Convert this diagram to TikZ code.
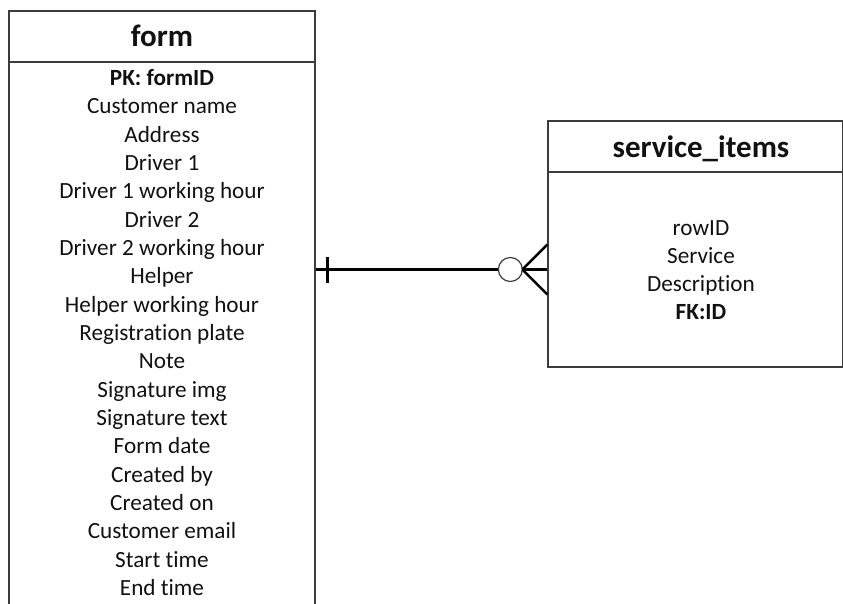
\documentclass[tikz,border=0pt]{standalone}
\usepackage{fontspec}
\setmainfont[Ligatures={NoCommon}]{Carlito}
\definecolor{boxline}{HTML}{3C3C3C}
\definecolor{ink}{HTML}{111111}
\begin{document}
\begin{tikzpicture}[x=1pt,y=-1pt,
  tablebox/.style={draw=boxline, line width=1.3pt, rectangle, inner sep=0pt},
  title/.style={font=\fontsize{31}{36}\selectfont\bfseries, text=ink, anchor=mid},
  field/.style={font=\fontsize{23.2}{27}\selectfont, text=ink, anchor=mid},
  keyfield/.style={field, font=\fontsize{23.2}{27}\selectfont\bfseries},
  rel/.style={line width=2.6pt, black}]
\useasboundingbox (0,0) rectangle (843,603);
\clip (0,0) rectangle (843,603);

% form table (runs past the lower edge)
\node[tablebox, minimum width=306pt, minimum height=51pt] (formhead) at (162,36.5) {};
\node[tablebox, minimum width=306pt, minimum height=560pt] (formbody) at (162,342) {};
\node[title] (formtitle) at (162,44) {form};

\node[keyfield] (f1) at (162,83) {PK: formID};
\foreach \t [count=\i from 1] in {Customer name, Address, Driver 1,
    Driver 1 working hour, Driver 2, Driver 2 working hour, Helper,
    Helper working hour, Registration plate, Note, Signature img,
    Signature text, Form date, Created by, Created on, Customer email,
    Start time, End time}
  \node[field] (f\i x) at (162,{83+\i*28.33}) {\t};

% service_items table
\node[tablebox, minimum width=295pt, minimum height=51pt] (svchead) at (695.5,146.5) {};
\node[tablebox, minimum width=295pt, minimum height=195pt] (svcbody) at (695.5,269.5) {};
\node[title] (svctitle) at (701,155) {service\_items};

\node[field] (s1) at (701,233) {rowID};
\node[field] (s2) at (701,261) {Service};
\node[field] (s3) at (701,289) {Description};
\node[keyfield] (s4) at (701,317) {FK:ID};

% one-to-many (zero or more) relationship
\coordinate (relA) at (formbody.east |- svcbody.west);
\coordinate (ring) at ([xshift=-37pt]svcbody.west);
\coordinate (fork) at ([xshift=-25pt]svcbody.west);
\draw[rel] (relA) -- ([xshift=-12pt]ring);
\draw[rel] ([xshift=12pt,yshift=-13pt]relA) -- ([xshift=12pt,yshift=13pt]relA);
\draw[boxline, line width=1.2pt, fill=white] (ring) circle (12pt);
\draw[rel] (fork) -- (svcbody.west);
\draw[rel] (fork) -- ([yshift=-25pt]svcbody.west);
\draw[rel] (fork) -- ([yshift=25pt]svcbody.west);
\end{tikzpicture}
\end{document}
